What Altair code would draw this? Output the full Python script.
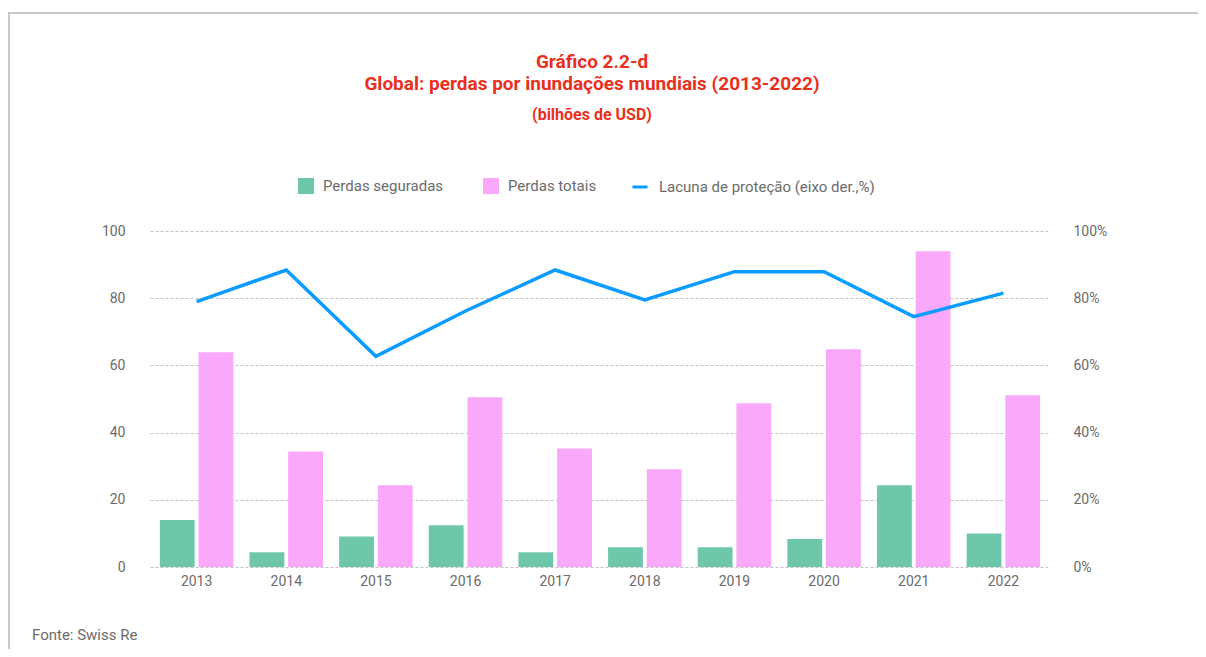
import altair as alt
import pandas as pd

years = ["2013", "2014", "2015", "2016", "2017", "2018", "2019", "2020", "2021", "2022"]
insured = [14.0, 4.4, 9.1, 12.4, 4.4, 5.9, 5.9, 8.3, 24.3, 10.0]
total = [63.9, 34.4, 24.3, 50.5, 35.3, 29.1, 48.7, 64.8, 94.0, 51.1]
gap_pct = [79.0, 88.4, 62.7, 76.2, 88.4, 79.5, 87.9, 87.9, 74.5, 81.5]

series_names = ["Perdas seguradas", "Perdas totais"]
line_label = "Lacuna de proteção (eixo der.,%)"
title_lines = ["Gráfico 2.2-d", "Global: perdas por inundações mundiais (2013-2022)", "(bilhões de USD)"]
source_text = "Fonte: Swiss Re"

GREEN = "#6FC7AB"
PINK = "#FAA8FA"
BLUE = "#0A9BFF"
RED = "#E8301C"
GRAY = "#6b6b6b"
FONT = "Roboto"

bar_df = pd.DataFrame(
    [{"year": y, "series": series_names[0], "value": v} for y, v in zip(years, insured)]
    + [{"year": y, "series": series_names[1], "value": v} for y, v in zip(years, total)]
)
line_df = pd.DataFrame({"year": years, "gap": gap_pct, "label": [line_label] * len(years)})

x_enc = alt.X(
    "year:N",
    sort=years,
    scale=alt.Scale(paddingInner=0.18, paddingOuter=0.11),
    axis=alt.Axis(title=None, labelAngle=0, domain=False, ticks=False, labelPadding=7,
                  labelFontSize=14, labelColor=GRAY, labelFont=FONT),
)

bars = alt.Chart(bar_df).mark_bar().encode(
    x=x_enc,
    xOffset=alt.XOffset("series:N", sort=series_names, scale=alt.Scale(paddingInner=0.1)),
    y=alt.Y(
        "value:Q",
        scale=alt.Scale(domain=[0, 100]),
        axis=alt.Axis(title=None, values=[0, 20, 40, 60, 80, 100], grid=True, gridDash=[3, 2],
                      gridColor="#c4c4c4", gridWidth=1.2, domain=False, ticks=False, labelPadding=25,
                      labelFontSize=14, labelColor=GRAY, labelFont=FONT),
    ),
    color=alt.Color(
        "series:N",
        scale=alt.Scale(domain=series_names, range=[GREEN, PINK]),
        legend=alt.Legend(orient="none", legendX=148, legendY=-53, direction="horizontal", title=None,
                          symbolType="square", symbolSize=256, symbolStrokeWidth=0, labelFontSize=15,
                          labelColor=GRAY, labelFont=FONT, labelOffset=9, columnPadding=39, padding=0,
                          labelLimit=400),
    ),
)

line = alt.Chart(line_df).mark_line(strokeWidth=3.5).encode(
    x=alt.X("year:N", sort=years),
    y=alt.Y(
        "gap:Q",
        scale=alt.Scale(domain=[0, 100]),
        axis=alt.Axis(title=None, orient="right", values=[0, 20, 40, 60, 80, 100], grid=False,
                      domain=False, ticks=False, labelPadding=23, labelExpr="datum.value + '%'",
                      labelFontSize=14, labelColor=GRAY, labelFont=FONT),
    ),
    stroke=alt.Stroke(
        "label:N",
        scale=alt.Scale(domain=[line_label], range=[BLUE]),
        legend=alt.Legend(orient="none", legendX=481, legendY=-53, title=None, symbolType="stroke",
                          symbolSize=225, symbolStrokeWidth=3, labelFontSize=15, labelColor=GRAY,
                          labelFont=FONT, labelOffset=10, padding=0, labelLimit=400),
    ),
)

one = pd.DataFrame({"k": [0]})

def text_layer(txt, y, size, color, weight="normal", x=442, align="center"):
    return alt.Chart(pd.DataFrame({"t": [txt]})).mark_text(
        align=align, baseline="alphabetic", fontSize=size, font=FONT, fontWeight=weight, color=color
    ).encode(x=alt.value(x), y=alt.value(y), text="t:N")

t1 = text_layer(title_lines[0], -163, 19, RED, "bold")
t2 = text_layer(title_lines[1], -141, 19, RED, "bold")
t3 = text_layer(title_lines[2], -111, 16, RED, "bold")
src = text_layer(source_text, 409, 15, GRAY, "normal", x=-118, align="left")

top_border = alt.Chart(one).mark_rule(color="#c8c8c8", strokeWidth=2).encode(
    x=alt.value(-142), x2=alt.value(1048), y=alt.value(-218)
)
left_border = alt.Chart(one).mark_rule(color="#c8c8c8", strokeWidth=2).encode(
    x=alt.value(-141), y=alt.value(-219), y2=alt.value(420)
)

chart = (
    alt.layer(bars, line, t1, t2, t3, src, top_border, left_border)
    .resolve_scale(y="independent")
    .properties(
        width=900,
        height=336,
        autosize=alt.AutoSizeParams(type="none"),
        padding={"left": 142, "top": 223, "right": 148, "bottom": 82},
        background="white",
    )
    .configure_view(stroke=None)
)

chart.save("out.html", embed_options={"renderer": "svg", "actions": False})
